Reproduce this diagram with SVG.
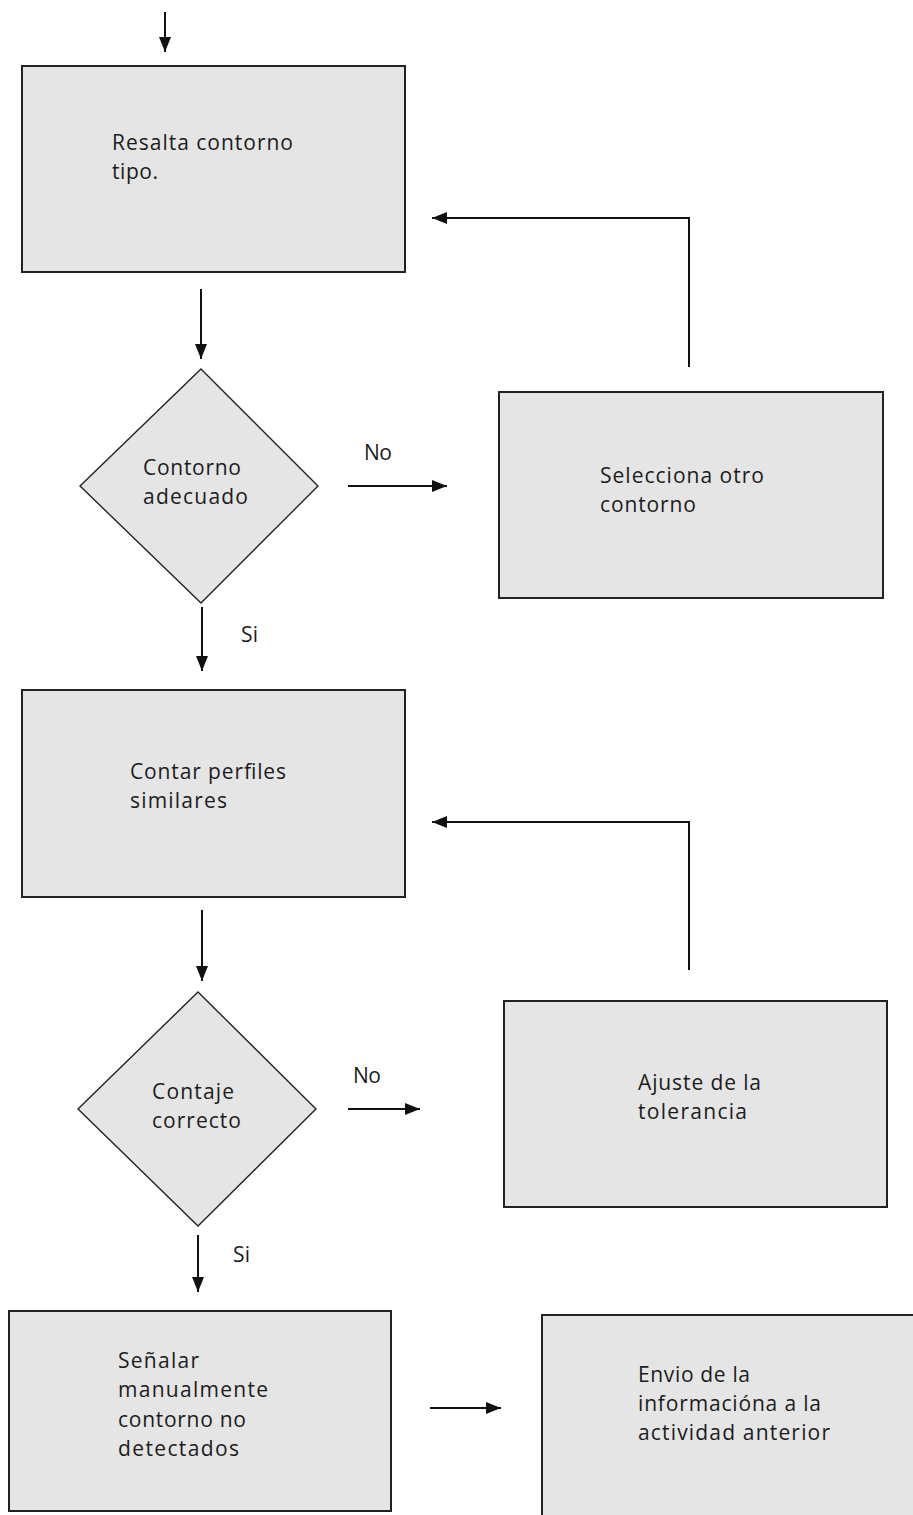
<svg xmlns="http://www.w3.org/2000/svg" width="913" height="1515" viewBox="0 0 913 1515">
<style>
.box{fill:#e5e5e5;stroke:#222;stroke-width:2}
.dia{fill:#e5e5e5;stroke:#222;stroke-width:1.4}
.t{font-family:"Open Sans","DejaVu Sans",sans-serif;font-size:21px;fill:#1c1c1c}
.c{fill:none;stroke:#111;stroke-width:2}
</style>
<defs>
<marker id="ah" markerUnits="userSpaceOnUse" markerWidth="16" markerHeight="16" viewBox="0 0 16 16" refX="15" refY="8" orient="auto">
<path d="M0,2 L15,8 L0,14 Z" fill="#111"/>
</marker>
</defs>
<rect width="913" height="1515" fill="#fff"/>
<g id="n1"><rect class="box" x="22" y="66" width="383" height="206"/>
<text class="t" x="112" y="150" textLength="181">Resalta contorno</text>
<text class="t" x="112" y="179" textLength="46">tipo.</text></g>
<g id="n2"><polygon class="dia" points="201,369 318,486 201,603 80,486"/>
<text class="t" x="143" y="475" textLength="98">Contorno</text>
<text class="t" x="143" y="504" textLength="105">adecuado</text></g>
<g id="n3"><rect class="box" x="499" y="392" width="384" height="206"/>
<text class="t" x="600" y="483" textLength="164">Selecciona otro</text>
<text class="t" x="600" y="512" textLength="96">contorno</text></g>
<g id="n4"><rect class="box" x="22" y="690" width="383" height="207"/>
<text class="t" x="130" y="779" textLength="156">Contar perfiles</text>
<text class="t" x="130" y="808" textLength="97">similares</text></g>
<g id="n5"><polygon class="dia" points="198,992 316,1109 198,1226 78,1109"/>
<text class="t" x="152" y="1099" textLength="82">Contaje</text>
<text class="t" x="152" y="1128" textLength="89">correcto</text></g>
<g id="n6"><rect class="box" x="504" y="1001" width="383" height="206"/>
<text class="t" x="638" y="1090" textLength="123">Ajuste de la</text>
<text class="t" x="638" y="1119" textLength="109">tolerancia</text></g>
<g id="n7"><rect class="box" x="9" y="1311" width="382" height="200"/>
<text class="t" x="118" y="1368" textLength="81">Señalar</text>
<text class="t" x="118" y="1397" textLength="150">manualmente</text>
<text class="t" x="118" y="1427" textLength="128">contorno no</text>
<text class="t" x="118" y="1456" textLength="121">detectados</text></g>
<g id="n8"><rect class="box" x="542" y="1315" width="380" height="210"/>
<text class="t" x="638" y="1382" textLength="112">Envio de la</text>
<text class="t" x="638" y="1411" textLength="183">informacióna a la</text>
<text class="t" x="638" y="1440" textLength="192">actividad anterior</text></g>
<g id="connectors">
<line class="c" x1="165" y1="12" x2="165" y2="52" marker-end="url(#ah)"/>
<line class="c" x1="201" y1="289" x2="201" y2="359" marker-end="url(#ah)"/>
<line class="c" x1="348" y1="486" x2="447" y2="486" marker-end="url(#ah)"/>
<polyline class="c" points="689,367 689,218 432,218" marker-end="url(#ah)"/>
<line class="c" x1="202" y1="607" x2="202" y2="671" marker-end="url(#ah)"/>
<polyline class="c" points="689,970 689,822 432,822" marker-end="url(#ah)"/>
<line class="c" x1="202" y1="910" x2="202" y2="981" marker-end="url(#ah)"/>
<line class="c" x1="348" y1="1109" x2="420" y2="1109" marker-end="url(#ah)"/>
<line class="c" x1="198" y1="1235" x2="198" y2="1292" marker-end="url(#ah)"/>
<line class="c" x1="430" y1="1408" x2="501" y2="1408" marker-end="url(#ah)"/>
<text class="t" x="364" y="460" textLength="28">No</text>
<text class="t" x="241" y="642" textLength="17">Si</text>
<text class="t" x="353" y="1083" textLength="28">No</text>
<text class="t" x="233" y="1262" textLength="17">Si</text>
</g>
</svg>
